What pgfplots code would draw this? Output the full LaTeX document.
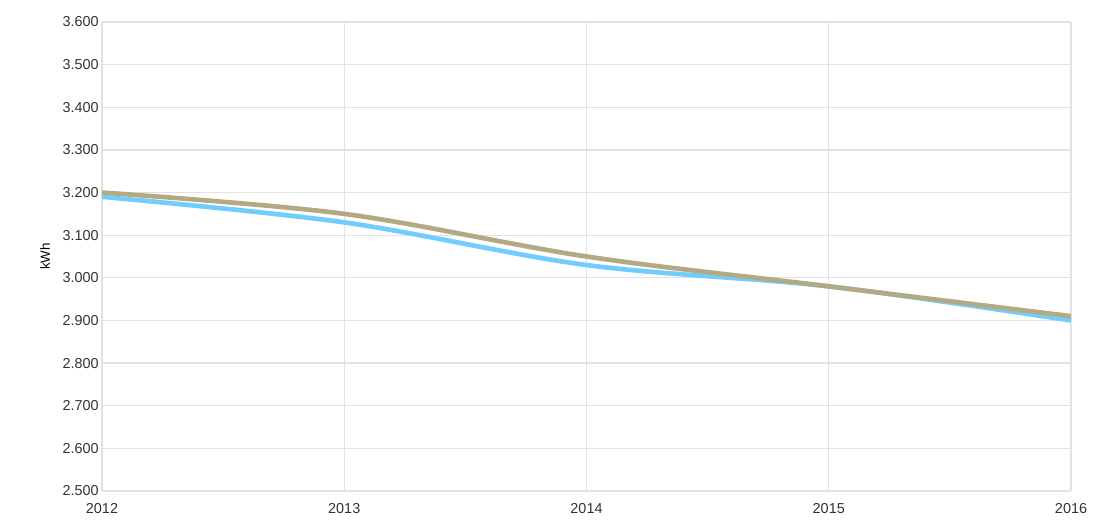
\documentclass[border=0pt]{standalone}
\usepackage{pgfplots}
\pgfplotsset{compat=1.18}
\usepackage{fontspec}
\setmainfont{Liberation Sans}
\definecolor{gridc}{HTML}{E2E2E2}
\definecolor{blueline}{HTML}{72CDFF}
\definecolor{tanline}{HTML}{B3AA84}
\definecolor{txt}{HTML}{333333}
\begin{document}
\begin{tikzpicture}
\begin{axis}[
  scale only axis,
  width=726.75pt, height=351.75pt,
  xmin=2012, xmax=2016, ymin=2500, ymax=3600,
  xtick={2012,2013,2014,2015,2016},
  xticklabels={2012,2013,2014,2015,2016},
  ytick={2500,2600,2700,2800,2900,3000,3100,3200,3300,3400,3500,3600},
  yticklabels={2.500,2.600,2.700,2.800,2.900,3.000,3.100,3.200,3.300,3.400,3.500,3.600},
  grid=major,
  major grid style={gridc, line width=0.9pt},
  axis line style={draw=none},
  tick style={draw=none},
  ticklabel style={font=\fontsize{10.8}{12}\selectfont, text=txt},
  yticklabel style={xshift=1pt},
  xticklabel style={yshift=-5.5pt},
  ylabel={kWh},
  ylabel style={font=\fontsize{10.5}{12}\selectfont, text=txt},
  every axis y label/.style={at={(axis description cs:-0.0588,0.5)}, rotate=90, anchor=center},
  clip=false,
]
\addplot[blueline, line width=3.5pt, smooth, tension=0.55] coordinates {
  (2012,3190) (2013,3130) (2014,3030) (2015,2980) (2016,2900)};
\addplot[tanline, line width=3.5pt, smooth, tension=0.55] coordinates {
  (2012,3200) (2013,3150) (2014,3050) (2015,2980) (2016,2910)};
\end{axis}
\path (current axis.south west) ++(-76.5pt,-22.5pt) coordinate (bl);
\path (current axis.north east) ++(16.5pt,16.5pt) coordinate (tr);
\path[use as bounding box] (bl) rectangle (tr);
\end{tikzpicture}
\end{document}
